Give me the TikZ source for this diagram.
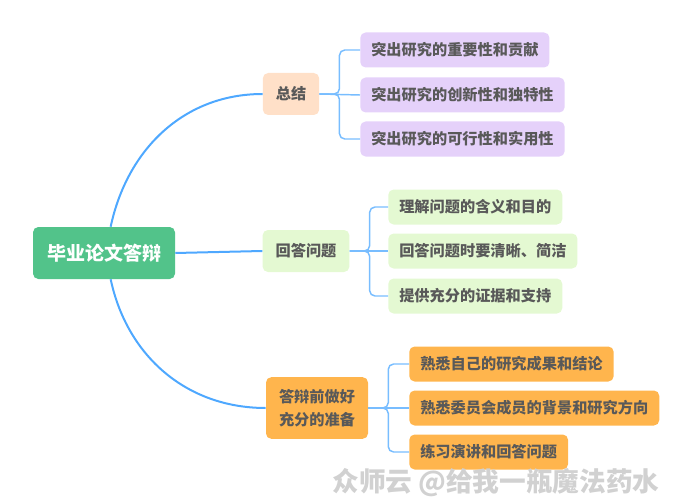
\documentclass[tikz,border=0pt]{standalone}
\usepackage{fontspec}
\newfontfamily\cjk{Noto Sans CJK SC}
\definecolor{rootgreen}{HTML}{52C38A}
\definecolor{peach}{HTML}{FFE0C8}
\definecolor{lilac}{HTML}{E5D1FA}
\definecolor{lime}{HTML}{E4F9D2}
\definecolor{amber}{HTML}{FFB54D}
\definecolor{limbblue}{HTML}{4EA8FF}
\definecolor{twigblue}{HTML}{78BDFF}
\definecolor{textgray}{HTML}{595959}

\begin{document}
\begin{tikzpicture}[x=0.75pt, y=-0.75pt]
            \useasboundingbox (0,0) rectangle (693,503);
            {
                \tikzset{every node/.style = {rounded corners=4pt, text=textgray, font=\cjk\bfseries\fontsize{11.4}{17.25}\selectfont}}
                \tikzset{root/.style = {fill=rootgreen, text=white, font=\cjk\bfseries\fontsize{14.25}{17}\selectfont, minimum height=39pt, inner xsep=10.5pt}}
                \tikzset{topic/.style = {minimum height=31.5pt, inner xsep=9.75pt, inner ysep=9pt}}
                \tikzset{leaf/.style = {anchor=west, minimum height=26.25pt, inner xsep=8.25pt}}

                \node[root] (thesis) at (104, 253) {毕业论文答辩};

                \node[topic, fill=peach] (sum) at (291, 94) {总结};
                \node[topic, fill=lime] (qa) at (306, 251) {回答问题};
                \node[topic, fill=amber, align=left] (prep) at (317, 408) {答辩前做好\\充分的准备};

                \node[leaf, fill=lilac] (s1) at (360, 50) {突出研究的重要性和贡献};
                \node[leaf, fill=lilac] (s2) at (360, 95) {突出研究的创新性和独特性};
                \node[leaf, fill=lilac] (s3) at (360, 139) {突出研究的可行性和实用性};

                \node[leaf, fill=lime] (q1) at (388, 207) {理解问题的含义和目的};
                \node[leaf, fill=lime] (q2) at (388, 251) {回答问题时要清晰、简洁};
                \node[leaf, fill=lime] (q3) at (388, 296) {提供充分的证据和支持};

                \node[leaf, fill=amber] (p1) at (409, 364) {熟悉自己的研究成果和结论};
                \node[leaf, fill=amber] (p2) at (409, 408) {熟悉委员会成员的背景和研究方向};
                \node[leaf, fill=amber] (p3) at (409, 452) {练习演讲和回答问题};

                \node[text=black!18, font=\cjk\bfseries\fontsize{20}{21}\selectfont] (wm) at (496, 483) {众师云 @给我一瓶魔法药水};
            }

            % main limbs from the root
            \draw[limbblue, line width=1.5pt] ([xshift=5]thesis.north) to[out=78, in=180] (sum.west);
            \draw[limbblue, line width=1.5pt] (thesis.east) -- (qa.west);
            \draw[limbblue, line width=1.5pt] ([xshift=5]thesis.south) to[out=-78, in=180] (prep.west);

            % brackets to the leaves
            \foreach \t/\a/\b/\c in {sum/s1/s2/s3, qa/q1/q2/q3, prep/p1/p2/p3}
            {
                \draw[twigblue, line width=1.1pt, rounded corners=4pt] (\t.east) -- ++(20, 0) |- (\a.west);
                \draw[twigblue, line width=1.1pt] (\t.east) -- (\b.west);
                \draw[twigblue, line width=1.1pt, rounded corners=4pt] (\t.east) -- ++(20, 0) |- (\c.west);
            }

        \end{tikzpicture}
\end{document}
